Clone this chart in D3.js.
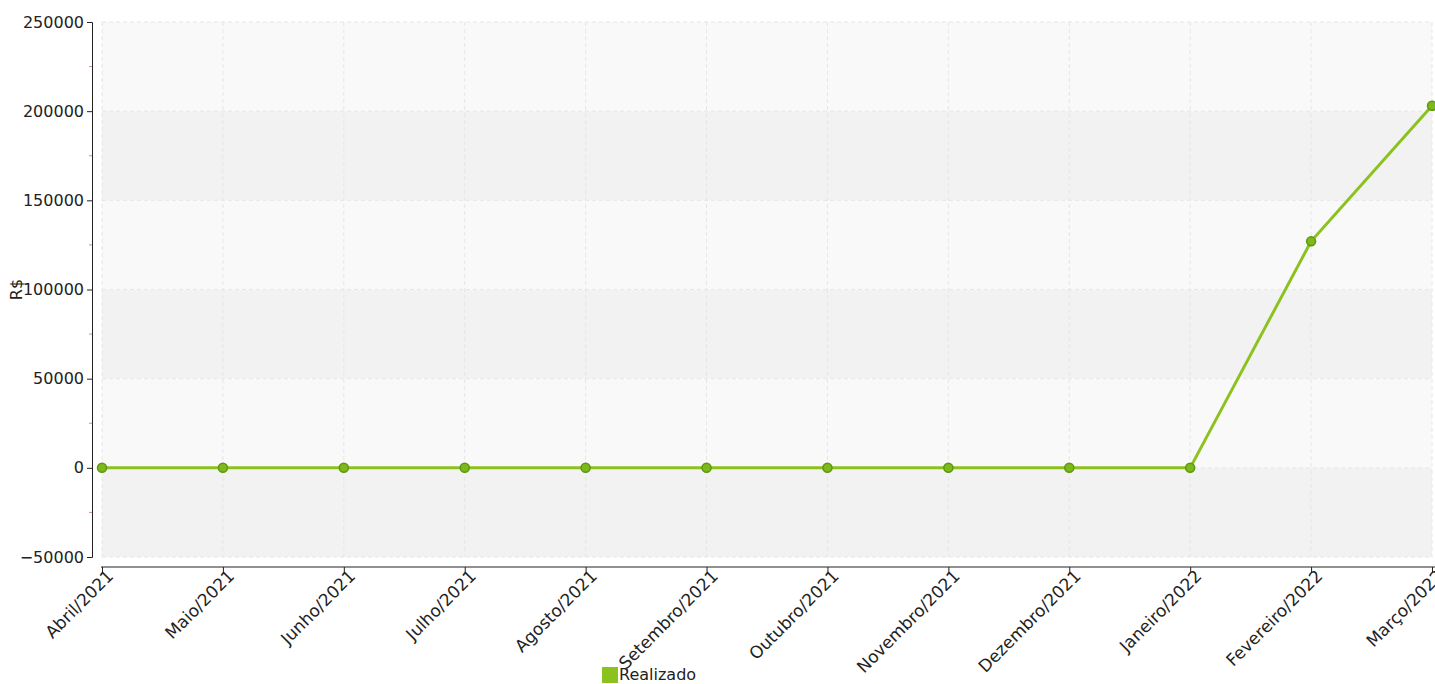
<!DOCTYPE html>
<html lang="pt">
<head>
<meta charset="UTF-8">
<title>Realizado</title>
<script src="https://d3js.org/d3.v7.min.js"></script>
<style>
  body { margin: 0; background: #fff; }
  .axis path, .axis line { stroke: #222; }
</style>
</head>
<body>
<div id="chart"></div>
<script>
// data
const months = ["Abril/2021", "Maio/2021", "Junho/2021", "Julho/2021", "Agosto/2021",
  "Setembro/2021", "Outubro/2021", "Novembro/2021", "Dezembro/2021", "Janeiro/2022",
  "Fevereiro/2022", "Março/2022"];
const realizado = [0, 0, 0, 0, 0, 0, 0, 0, 0, 0, 127000, 203000];
const yTicks = [-50000, 0, 50000, 100000, 150000, 200000, 250000];

const W = 1435, H = 684;
const plotL = 102, plotR = 1432, plotT = 22, plotB = 557;
const FONT = "'DejaVu Sans', Verdana, sans-serif";

const svg = d3.select("#chart").append("svg")
  .attr("width", W).attr("height", H)
  .attr("font-family", FONT).attr("font-size", 16);

const x = d3.scalePoint().domain(months).range([plotL, plotR]);
const y = d3.scaleLinear().domain([-50000, 250000]).range([plotB, plotT]);

// alternating background bands
const bands = d3.pairs(yTicks);
svg.selectAll(".band").data(bands).enter().append("rect")
  .attr("x", plotL).attr("width", plotR - plotL)
  .attr("y", d => y(d[1])).attr("height", d => y(d[0]) - y(d[1]))
  .attr("fill", (d, i) => i % 2 === 0 ? "#f2f2f2" : "#f9f9f9");

// dashed grid
svg.selectAll(".hgrid").data(yTicks).enter().append("line")
  .attr("x1", plotL).attr("x2", plotR)
  .attr("y1", d => y(d)).attr("y2", d => y(d))
  .attr("stroke", "#e6e6e6").attr("stroke-dasharray", "4,3");
svg.selectAll(".vgrid").data(months).enter().append("line")
  .attr("x1", d => x(d)).attr("x2", d => x(d))
  .attr("y1", plotT).attr("y2", plotB)
  .attr("stroke", "#e6e6e6").attr("stroke-dasharray", "4,3");

// y axis
svg.append("g").attr("class", "axis")
  .attr("transform", "translate(92,0)")
  .call(d3.axisLeft(y).tickValues(yTicks).tickFormat(d3.format("d")).tickSize(5).tickPadding(3))
  .attr("font-family", FONT).attr("font-size", 16)
  .selectAll("text").attr("fill", "#222");

// minor ticks (reddish) at half steps
svg.selectAll(".minor").data(d3.pairs(yTicks).map(p => (p[0] + p[1]) / 2)).enter().append("line")
  .attr("x1", 89).attr("x2", 92)
  .attr("y1", d => y(d)).attr("y2", d => y(d))
  .attr("stroke", "#d08a9a");

// x axis
const xAxis = svg.append("g").attr("class", "axis")
  .attr("transform", "translate(0,567)")
  .call(d3.axisBottom(x).tickSize(5).tickSizeOuter(0))
  .attr("font-family", FONT).attr("font-size", 17);
xAxis.select(".domain").attr("d", `M${plotL - 1},0H${W}`);
xAxis.selectAll(".tick text")
  .attr("fill", "#222")
  .attr("text-anchor", "end")
  .attr("x", 0).attr("y", 0).attr("dy", "0.75em")
  .attr("transform", "translate(3,1) rotate(-45)");

// y title
svg.append("text")
  .attr("transform", `translate(22,${(plotT + plotB) / 2}) rotate(-90)`)
  .attr("text-anchor", "middle").attr("fill", "#222")
  .text("R$");

// line
const line = d3.line().x((d, i) => x(months[i])).y(d => y(d));
svg.append("path").datum(realizado)
  .attr("d", line).attr("fill", "none")
  .attr("stroke", "#8cc21e").attr("stroke-width", 3);

svg.selectAll(".pt").data(realizado).enter().append("circle")
  .attr("cx", (d, i) => x(months[i])).attr("cy", d => y(d))
  .attr("r", 4.5)
  .attr("fill", "#7fb81a").attr("stroke", "#5e9614").attr("stroke-width", 1.5);

// legend
svg.append("rect").attr("x", 602).attr("y", 667).attr("width", 16).attr("height", 16).attr("fill", "#8cc21e");
svg.append("text").attr("x", 619).attr("y", 680).attr("fill", "#222").text("Realizado");
</script>
</body>
</html>
